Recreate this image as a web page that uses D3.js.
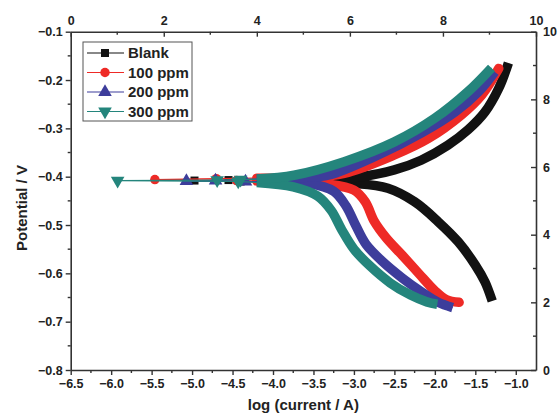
<!DOCTYPE html>
<html>
<head>
<meta charset="utf-8">
<script src="https://cdn.jsdelivr.net/npm/d3@7"></script>
<style>
  body { margin: 0; background: #fff; }
  svg text { font-family: Arial, "Liberation Sans", sans-serif; font-weight: bold; fill: #222; }
</style>
</head>
<body>
<svg width="559" height="419"></svg>
<script>
  // series: [log(current / A), potential / V], in sweep order
  const seriesNames = ["Blank", "100 ppm", "200 ppm", "300 ppm"];
  const seriesColors = ["#121212", "#ee2a26", "#3d3d9b", "#24857c"];
  const seriesSymbols = ["square", "circle", "up", "down"];

  // cathodic branch (bottom end -> near Ecorr)
  const blankCath = [[-1.31, -0.648], [-1.38, -0.618], [-1.50, -0.583], [-1.71, -0.535], [-1.96, -0.493],
    [-2.25, -0.452], [-2.58, -0.424], [-2.99, -0.414], [-3.50, -0.412], [-4.10, -0.411]];
  const ppm100Cath = [[-1.70, -0.660], [-1.86, -0.654], [-2.00, -0.636], [-2.20, -0.600], [-2.40, -0.563],
    [-2.60, -0.527], [-2.75, -0.492], [-2.86, -0.452], [-3.00, -0.428], [-3.35, -0.415], [-3.80, -0.410], [-4.20, -0.409]];
  const ppm200Cath = [[-1.78, -0.671], [-1.96, -0.660], [-2.15, -0.640], [-2.40, -0.610], [-2.65, -0.575],
    [-2.85, -0.540], [-2.98, -0.500], [-3.10, -0.460], [-3.25, -0.430], [-3.55, -0.414], [-4.20, -0.410]];
  const ppm300Cath = [[-1.97, -0.664], [-2.10, -0.659], [-2.30, -0.645], [-2.55, -0.620], [-2.80, -0.585],
    [-3.00, -0.550], [-3.15, -0.510], [-3.28, -0.470], [-3.45, -0.440], [-3.75, -0.421], [-4.20, -0.412]];

  // sparse points around the corrosion potential
  const blankLow = [[-4.40, -0.410], [-4.97, -0.408], [-4.55, -0.407]];
  const ppm100Low = [[-4.45, -0.408], [-5.46, -0.406], [-4.70, -0.404]];
  const ppm200Low = [[-4.34, -0.410], [-5.07, -0.409], [-4.71, -0.408]];
  const ppm300Low = [[-4.43, -0.410], [-5.92, -0.408], [-4.69, -0.407], [-4.40, -0.406]];

  // anodic branch (near Ecorr -> top end)
  const blankAnod = [[-4.10, -0.406], [-3.50, -0.405], [-3.20, -0.404], [-2.91, -0.400], [-2.50, -0.386],
    [-2.17, -0.366], [-1.84, -0.335], [-1.59, -0.303], [-1.38, -0.266], [-1.21, -0.217], [-1.11, -0.174]];
  const ppm100Anod = [[-4.20, -0.403], [-3.60, -0.401], [-3.12, -0.393], [-2.50, -0.355], [-2.08, -0.321],
    [-1.67, -0.272], [-1.42, -0.231], [-1.21, -0.176]];
  const ppm200Anod = [[-4.20, -0.405], [-3.60, -0.401], [-3.32, -0.397], [-2.70, -0.355], [-2.17, -0.310],
    [-1.75, -0.266], [-1.46, -0.224], [-1.26, -0.183]];
  const ppm300Anod = [[-4.20, -0.405], [-3.74, -0.397], [-3.12, -0.369], [-2.50, -0.328], [-2.00, -0.279],
    [-1.59, -0.224], [-1.30, -0.175]];

  const xTicks = [-6.5, -6.0, -5.5, -5.0, -4.5, -4.0, -3.5, -3.0, -2.5, -2.0, -1.5, -1.0];
  const yTicks = [-0.8, -0.7, -0.6, -0.5, -0.4, -0.3, -0.2, -0.1];
  const auxTicks = [0, 2, 4, 6, 8, 10];

  const cath = [blankCath, ppm100Cath, ppm200Cath, ppm300Cath];
  const low = [blankLow, ppm100Low, ppm200Low, ppm300Low];
  const anod = [blankAnod, ppm100Anod, ppm200Anod, ppm300Anod];

  var svg = d3.select("svg");
  var pLeft = 70.7, pRight = 536, pTop = 31.7, pBottom = 370;

  var x = d3.scaleLinear().domain([-6.5, -0.75]).range([pLeft, pRight]);
  var y = d3.scaleLinear().domain([-0.8, -0.1]).range([pBottom, pTop]);
  var xAux = d3.scaleLinear().domain([0, 10]).range([pLeft, pRight]);
  var yAux = d3.scaleLinear().domain([0, 10]).range([pBottom, pTop]);

  var axisColor = "#333";

  // minor ticks, drawn as plain lines
  var minorG = svg.append("g").attr("stroke", axisColor).attr("stroke-width", 1.4);
  d3.range(-6.25, -0.75, 0.5).forEach(v => minorG.append("line")
    .attr("x1", x(v)).attr("x2", x(v)).attr("y1", pBottom).attr("y2", pBottom + 3));
  d3.range(-0.75, -0.1, 0.1).forEach(v => minorG.append("line")
    .attr("x1", pLeft).attr("x2", pLeft - 3).attr("y1", y(v)).attr("y2", y(v)));
  [1, 3, 5, 7, 9].forEach(v => {
    minorG.append("line").attr("x1", xAux(v)).attr("x2", xAux(v)).attr("y1", pTop).attr("y2", pTop + 3);
    minorG.append("line").attr("x1", pRight).attr("x2", pRight - 3).attr("y1", yAux(v)).attr("y2", yAux(v));
  });

  svg.append("g").attr("transform", "translate(0," + pBottom + ")")
    .call(d3.axisBottom(x).tickValues(xTicks).tickSize(5).tickSizeOuter(0).tickPadding(4).tickFormat(d3.format(".1f")));
  svg.append("g").attr("transform", "translate(" + pLeft + ",0)")
    .call(d3.axisLeft(y).tickValues(yTicks).tickSize(5).tickSizeOuter(0).tickPadding(3).tickFormat(d3.format(".1f")));

  // top and right axes: ticks point inwards
  var gt = svg.append("g").attr("transform", "translate(0," + pTop + ")")
    .call(d3.axisTop(xAux).tickValues(auxTicks).tickSize(0).tickSizeOuter(0).tickPadding(7));
  gt.selectAll(".tick").append("line").attr("y2", 5);
  var gr = svg.append("g").attr("transform", "translate(" + pRight + ",0)")
    .call(d3.axisRight(yAux).tickValues(auxTicks).tickSize(0).tickSizeOuter(0).tickPadding(7));
  gr.selectAll(".tick").append("line").attr("x2", -5);

  svg.selectAll(".domain").attr("stroke", axisColor).attr("stroke-width", 1.6);
  svg.selectAll(".tick line").attr("stroke", axisColor).attr("stroke-width", 1.4);
  svg.selectAll(".tick text").attr("font-size", 12.5).attr("fill", "#222")
    .style("font-family", "Arial, 'Liberation Sans', sans-serif").style("font-weight", "bold");

  // axis titles
  svg.append("text").attr("x", (pLeft + pRight) / 2).attr("y", 410)
    .attr("text-anchor", "middle").attr("font-size", 15).text("log (current / A)");
  svg.append("text").attr("transform", "translate(27,208) rotate(-90)")
    .attr("text-anchor", "middle").attr("font-size", 15).text("Potential / V");

  // curves
  var thin = d3.line().x(d => x(d[0])).y(d => y(d[1]));
  var smooth = d3.line().x(d => x(d[0])).y(d => y(d[1])).curve(d3.curveCatmullRom.alpha(0.5));

  function symbolPath(kind, size) {
    var t = { square: d3.symbolSquare, circle: d3.symbolCircle, up: d3.symbolTriangle, down: d3.symbolTriangle }[kind];
    return d3.symbol(t, size)();
  }
  function symbolTransform(kind, px, py) {
    return "translate(" + px + "," + py + ")" + (kind === "down" ? " rotate(180)" : "");
  }
  var markSize = { square: 64, circle: 70, up: 80, down: 80 };
  var caps = ["square", "round", "butt", "butt"];

  var plot = svg.append("g");
  seriesNames.forEach(function (name, i) {
    var g = plot.append("g");
    var color = seriesColors[i];
    var all = cath[i].concat(low[i], anod[i]);
    g.append("path").attr("d", thin(all)).attr("fill", "none").attr("stroke", color).attr("stroke-width", 1.2);
    [cath[i], anod[i]].forEach(function (branch) {
      g.append("path").attr("d", smooth(branch)).attr("fill", "none")
        .attr("stroke", color).attr("stroke-width", 9.5).attr("stroke-linecap", caps[i]);
    });
    g.selectAll(".mk").data(low[i]).enter().append("path")
      .attr("d", symbolPath(seriesSymbols[i], markSize[seriesSymbols[i]]))
      .attr("transform", d => symbolTransform(seriesSymbols[i], x(d[0]), y(d[1])))
      .attr("fill", color);
  });

  // legend
  var lg = svg.append("g");
  lg.append("rect").attr("x", 83).attr("y", 42).attr("width", 109).attr("height", 79)
    .attr("fill", "#fff").attr("stroke", "#555").attr("stroke-width", 1);
  seriesNames.forEach(function (name, i) {
    var ly = 53 + i * 19.5;
    lg.append("line").attr("x1", 87).attr("x2", 124).attr("y1", ly).attr("y2", ly)
      .attr("stroke", seriesColors[i]).attr("stroke-width", 1.2);
    lg.append("path").attr("d", symbolPath(seriesSymbols[i], markSize[seriesSymbols[i]]))
      .attr("transform", symbolTransform(seriesSymbols[i], 105, ly)).attr("fill", seriesColors[i]);
    lg.append("text").attr("x", 128).attr("y", ly + 5).attr("font-size", 15).text(name);
  });
</script>
</body>
</html>
